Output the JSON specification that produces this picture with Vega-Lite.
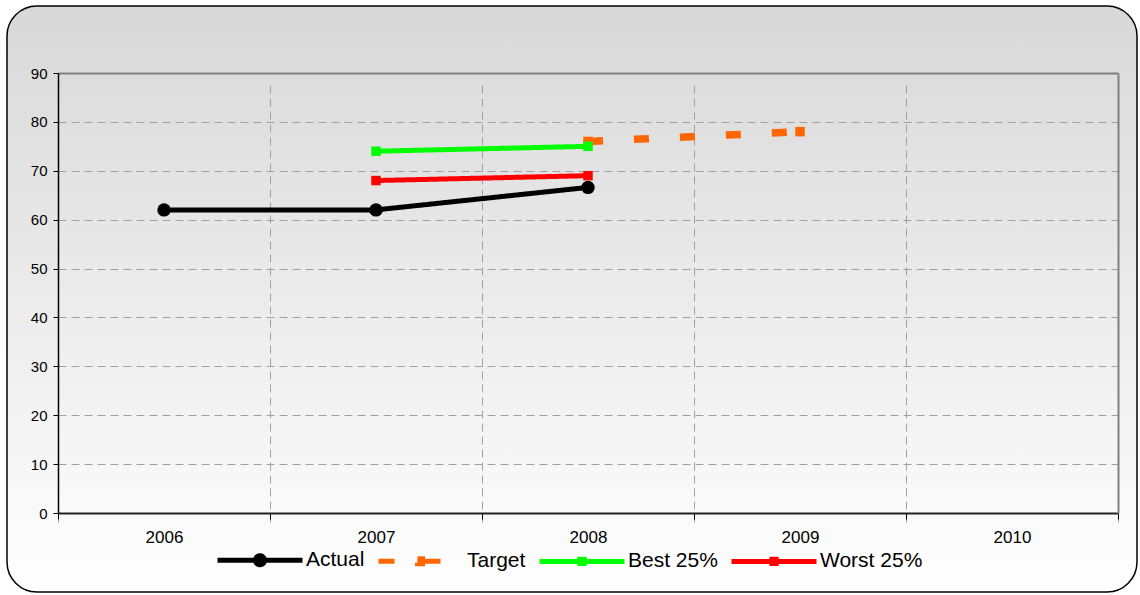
{
  "$schema": "https://vega.github.io/schema/vega-lite/v6.json",
  "width": 1130,
  "height": 586,
  "autosize": {"type": "none"},
  "padding": {"left": 7, "top": 6, "right": 3, "bottom": 3},
  "background": "#ffffff",
  "view": {
    "cornerRadius": 30,
    "stroke": "#000000",
    "strokeWidth": 1.5,
    "fill": {
      "gradient": "linear",
      "x1": 0, "y1": 0, "x2": 0, "y2": 1,
      "stops": [
        {"offset": 0, "color": "#d8d8d8"},
        {"offset": 1, "color": "#ffffff"}
      ]
    }
  },
  "data": {
    "values": [
      {"year": "2006", "series": "Actual", "value": 62},
      {"year": "2007", "series": "Actual", "value": 62},
      {"year": "2008", "series": "Actual", "value": 66.6},
      {"year": "2008", "series": "Target", "value": 76},
      {"year": "2009", "series": "Target", "value": 78},
      {"year": "2007", "series": "Best 25%", "value": 74},
      {"year": "2008", "series": "Best 25%", "value": 75},
      {"year": "2007", "series": "Worst 25%", "value": 68},
      {"year": "2008", "series": "Worst 25%", "value": 69}
    ]
  },
  "layer": [
    {
      "mark": {"type": "line", "strokeCap": "butt"},
      "encoding": {
        "x": {
          "field": "year",
          "type": "ordinal",
          "scale": {"type": "band", "domain": ["2006", "2007", "2008", "2009", "2010"], "range": [51, 1111], "paddingInner": 0, "paddingOuter": 0},
          "axis": {
            "orient": "bottom",
            "offset": -79,
            "title": null,
            "labelAngle": 0,
            "labelFont": "Liberation Sans",
            "labelFontSize": 17,
            "labelColor": "#000000",
            "labelPadding": 10,
            "tickBand": "extent",
            "tickSize": 6,
            "tickColor": "#000000",
            "tickWidth": 1,
            "domainColor": "#222222",
            "domainWidth": 1.8,
            "grid": true,
            "gridColor": "#a0a0a0",
            "gridDash": [8, 5],
            "gridWidth": 1
          }
        },
        "y": {
          "field": "value",
          "type": "quantitative",
          "scale": {"domain": [0, 90], "range": [507, 67], "nice": false},
          "axis": {
            "orient": "left",
            "offset": -51,
            "title": null,
            "tickCount": 9,
            "labelFont": "Liberation Sans",
            "labelFontSize": 15,
            "labelColor": "#000000",
            "labelPadding": 6,
            "tickSize": 5,
            "tickColor": "#000000",
            "tickWidth": 1,
            "domainColor": "#000000",
            "domainWidth": 1.5,
            "grid": true,
            "gridColor": "#a0a0a0",
            "gridDash": [8, 5],
            "gridWidth": 1
          }
        },
        "color": {
          "field": "series",
          "type": "nominal",
          "scale": {
            "domain": ["Actual", "Target", "Best 25%", "Worst 25%"],
            "range": ["#000000", "#ff6600", "#00ff00", "#ff0000"]
          },
          "legend": {
            "orient": "none",
            "legendX": 208,
            "legendY": 509,
            "direction": "horizontal",
            "title": null,
            "labelFont": "Liberation Sans",
            "labelFontSize": 21,
            "labelColor": "#000000",
            "labelOffset": 1,
            "columnPadding": 3,
            "symbolOffset": 0,
            "encode": {
              "symbols": {
                "update": {
                  "shape": {"signal": "datum.value === 'Actual' ? 'M-1,0H1M0.106,0A0.106,0.106,0,1,1,-0.106,0A0.106,0.106,0,1,1,0.106,0Z' : datum.value === 'Target' ? 'M-1,0H1M-0.082,-0.059H0.035V0.059H-0.082Z' : 'M-1,0H1M-0.05,-0.05H0.05V0.05H-0.05Z'"},
                  "size": {"value": 7225},
                  "fill": {"scale": "color", "field": "value"},
                  "stroke": {"scale": "color", "field": "value"},
                  "strokeWidth": {"value": 5},
                  "strokeDash": {"signal": "datum.value === 'Target' ? [16,30] : [1,0]"},
                  "opacity": {"value": 1}
                }
              }
            }
          }
        },
        "strokeDash": {"condition": {"test": "datum.series === 'Target'", "value": [15, 31]}, "value": [1, 0]},
        "strokeWidth": {"condition": {"test": "datum.series === 'Target'", "value": 7.5}, "value": 5}
      }
    },
    {
      "mark": {"type": "point", "filled": true, "opacity": 1},
      "encoding": {
        "x": {
          "field": "year",
          "type": "ordinal",
          "axis": {"orient": "top", "offset": -67, "title": null, "labels": false, "ticks": false, "grid": false, "domainColor": "#808080", "domainWidth": 2}
        },
        "y": {
          "field": "value",
          "type": "quantitative",
          "axis": {"orient": "right", "offset": -19, "title": null, "labels": false, "ticks": false, "grid": false, "domainColor": "#808080", "domainWidth": 2}
        },
        "color": {"field": "series", "type": "nominal"},
        "shape": {"condition": {"test": "datum.series === 'Actual'", "value": "circle"}, "value": "square"},
        "size": {"condition": {"test": "datum.series === 'Actual'", "value": 180}, "value": 90}
      }
    }
  ],
  "resolve": {"axis": {"x": "independent", "y": "independent"}}
}
